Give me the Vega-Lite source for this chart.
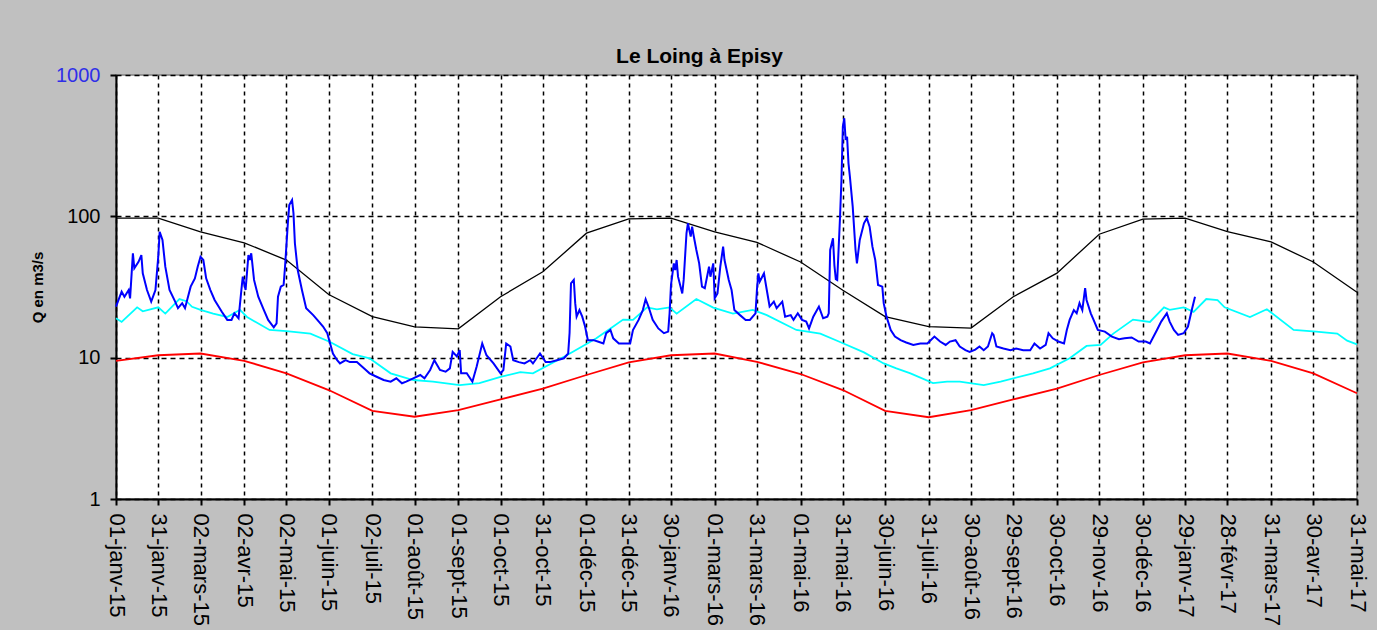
{
  "$schema": "https://vega.github.io/schema/vega-lite/v6.json",
  "width": 1241,
  "height": 424,
  "autosize": {"type": "none"},
  "padding": {"left": 116, "top": 75, "right": 20, "bottom": 131},
  "background": "#C0C0C0",
  "title": {"text": "Le Loing à Episy", "font": "Liberation Sans", "fontSize": 21, "fontWeight": "bold", "color": "#000000", "anchor": "middle", "offset": -2, "dx": -37},
  "config": {
    "view": {"fill": "white", "stroke": "#808080", "strokeWidth": 1.5},
    "axis": {"labelFont": "Liberation Sans", "titleFont": "Liberation Sans", "labelColor": "#000000", "titleColor": "#000000"}
  },
  "datasets": {
    "debit": [
      {"date":"2015-01-01","q":23},{"date":"2015-01-05","q":29.3},{"date":"2015-01-07","q":27},{"date":"2015-01-10","q":30.1},{"date":"2015-01-11","q":26.3},{"date":"2015-01-13","q":54.8},{"date":"2015-01-14","q":42.9},{"date":"2015-01-17","q":47.7},{"date":"2015-01-19","q":53.2},{"date":"2015-01-20","q":39.5},{"date":"2015-01-23","q":30.1},{"date":"2015-01-26","q":24.9},{"date":"2015-01-29","q":30.1},{"date":"2015-01-31","q":51.8},
      {"date":"2015-02-01","q":77.8},{"date":"2015-02-03","q":68},{"date":"2015-02-05","q":44},{"date":"2015-02-08","q":30.1},{"date":"2015-02-12","q":24.9},{"date":"2015-02-14","q":22.4},{"date":"2015-02-17","q":24.3},{"date":"2015-02-19","q":22.4},{"date":"2015-02-23","q":31.8},{"date":"2015-02-26","q":36.4},{"date":"2015-02-28","q":44},
      {"date":"2015-03-02","q":51.8},{"date":"2015-03-04","q":49.1},{"date":"2015-03-06","q":36.4},{"date":"2015-03-09","q":30.1},{"date":"2015-03-12","q":25.6},{"date":"2015-03-17","q":21.2},{"date":"2015-03-21","q":18.5},{"date":"2015-03-24","q":18.5},{"date":"2015-03-26","q":20.6},{"date":"2015-03-29","q":19},{"date":"2015-03-31","q":30.1},
      {"date":"2015-04-01","q":37.4},{"date":"2015-04-03","q":30.1},{"date":"2015-04-05","q":53.2},{"date":"2015-04-06","q":49.1},{"date":"2015-04-07","q":54.8},{"date":"2015-04-09","q":35.5},{"date":"2015-04-12","q":27},{"date":"2015-04-16","q":21.7},{"date":"2015-04-19","q":18.5},{"date":"2015-04-23","q":16.4},{"date":"2015-04-25","q":17.5},{"date":"2015-04-26","q":27},{"date":"2015-04-28","q":31.8},{"date":"2015-04-30","q":32.7},
      {"date":"2015-05-01","q":44},{"date":"2015-05-03","q":89.3},{"date":"2015-05-04","q":120},{"date":"2015-05-06","q":130.6},{"date":"2015-05-07","q":105},{"date":"2015-05-08","q":64.5},{"date":"2015-05-10","q":41.7},{"date":"2015-05-13","q":30.1},{"date":"2015-05-16","q":22.4},{"date":"2015-05-21","q":20},{"date":"2015-05-25","q":18},{"date":"2015-05-28","q":16.6},{"date":"2015-05-31","q":14.9},
      {"date":"2015-06-02","q":12.6},{"date":"2015-06-04","q":10.7},{"date":"2015-06-07","q":9.6},{"date":"2015-06-09","q":9.1},{"date":"2015-06-13","q":9.6},{"date":"2015-06-16","q":9.3},{"date":"2015-06-21","q":9.3},{"date":"2015-06-26","q":8.4},{"date":"2015-06-30","q":7.75},
      {"date":"2015-07-05","q":7.33},{"date":"2015-07-10","q":6.95},{"date":"2015-07-15","q":6.76},{"date":"2015-07-19","q":7.14},{"date":"2015-07-23","q":6.59},{"date":"2015-07-26","q":6.76},{"date":"2015-07-31","q":7.14},
      {"date":"2015-08-05","q":7.54},{"date":"2015-08-08","q":7.14},{"date":"2015-08-12","q":8.18},{"date":"2015-08-15","q":9.6},{"date":"2015-08-19","q":8.18},{"date":"2015-08-23","q":7.96},{"date":"2015-08-26","q":8.4},{"date":"2015-08-28","q":11},{"date":"2015-08-31","q":10.2},
      {"date":"2015-09-02","q":11.3},{"date":"2015-09-03","q":7.75},{"date":"2015-09-07","q":7.75},{"date":"2015-09-11","q":6.76},{"date":"2015-09-14","q":8.63},{"date":"2015-09-18","q":12.6},{"date":"2015-09-21","q":10.4},{"date":"2015-09-26","q":9.1},
      {"date":"2015-10-01","q":7.75},{"date":"2015-10-03","q":8.18},{"date":"2015-10-05","q":12.6},{"date":"2015-10-08","q":12},{"date":"2015-10-10","q":9.6},{"date":"2015-10-14","q":9.3},{"date":"2015-10-18","q":9.1},{"date":"2015-10-22","q":9.6},{"date":"2015-10-24","q":9.1},{"date":"2015-10-29","q":10.7},
      {"date":"2015-11-02","q":9.3},{"date":"2015-11-05","q":9.3},{"date":"2015-11-10","q":9.6},{"date":"2015-11-15","q":9.9},{"date":"2015-11-18","q":10.7},{"date":"2015-11-19","q":15},{"date":"2015-11-20","q":33.6},{"date":"2015-11-22","q":35.5},{"date":"2015-11-23","q":24.3},{"date":"2015-11-24","q":19.5},{"date":"2015-11-26","q":21.7},{"date":"2015-11-28","q":19.5},{"date":"2015-11-30","q":16.6},
      {"date":"2015-12-02","q":13.3},{"date":"2015-12-06","q":13.3},{"date":"2015-12-09","q":13},{"date":"2015-12-13","q":12.6},{"date":"2015-12-15","q":14.9},{"date":"2015-12-18","q":15.7},{"date":"2015-12-20","q":13.7},{"date":"2015-12-24","q":12.6},{"date":"2015-12-27","q":12.6},
      {"date":"2016-01-01","q":12.6},{"date":"2016-01-03","q":15.7},{"date":"2016-01-07","q":18.5},{"date":"2016-01-10","q":21.7},{"date":"2016-01-12","q":25.9},{"date":"2016-01-14","q":23},{"date":"2016-01-17","q":18.5},{"date":"2016-01-21","q":16.1},{"date":"2016-01-25","q":14.9},{"date":"2016-01-28","q":15.3},{"date":"2016-01-29","q":20.6},{"date":"2016-01-30","q":32.7},
      {"date":"2016-02-01","q":46.5},{"date":"2016-02-02","q":41.7},{"date":"2016-02-03","q":49.1},{"date":"2016-02-04","q":37.4},{"date":"2016-02-07","q":28.5},{"date":"2016-02-08","q":35.5},{"date":"2016-02-10","q":75.9},{"date":"2016-02-11","q":89.3},{"date":"2016-02-13","q":71.8},{"date":"2016-02-14","q":84.5},{"date":"2016-02-15","q":73.8},{"date":"2016-02-17","q":57.8},{"date":"2016-02-19","q":46.5},{"date":"2016-02-21","q":31.8},{"date":"2016-02-23","q":31},{"date":"2016-02-26","q":44},{"date":"2016-02-27","q":37.4},{"date":"2016-02-29","q":46.5},
      {"date":"2016-03-01","q":26.3},{"date":"2016-03-03","q":28.5},{"date":"2016-03-05","q":44},{"date":"2016-03-07","q":61},{"date":"2016-03-08","q":49.1},{"date":"2016-03-11","q":35.5},{"date":"2016-03-13","q":30.1},{"date":"2016-03-15","q":21.7},{"date":"2016-03-19","q":20},{"date":"2016-03-23","q":18.5},{"date":"2016-03-26","q":18.5},{"date":"2016-03-30","q":20.6},{"date":"2016-03-31","q":30.1},
      {"date":"2016-04-01","q":39.5},{"date":"2016-04-02","q":34.5},{"date":"2016-04-05","q":39.5},{"date":"2016-04-07","q":30.1},{"date":"2016-04-09","q":23},{"date":"2016-04-12","q":24.9},{"date":"2016-04-14","q":22.4},{"date":"2016-04-18","q":24.9},{"date":"2016-04-20","q":19.5},{"date":"2016-04-24","q":20},{"date":"2016-04-26","q":18.5},{"date":"2016-04-29","q":20.6},
      {"date":"2016-05-02","q":18.5},{"date":"2016-05-05","q":18},{"date":"2016-05-07","q":16.1},{"date":"2016-05-10","q":19.5},{"date":"2016-05-14","q":23},{"date":"2016-05-17","q":19},{"date":"2016-05-20","q":19.5},{"date":"2016-05-21","q":20.6},{"date":"2016-05-22","q":57.8},{"date":"2016-05-24","q":70},{"date":"2016-05-25","q":45},{"date":"2016-05-26","q":36},{"date":"2016-05-27","q":35.5},{"date":"2016-05-29","q":99},{"date":"2016-05-30","q":181},{"date":"2016-05-31","q":431},
      {"date":"2016-06-01","q":494},{"date":"2016-06-02","q":347},{"date":"2016-06-03","q":366},{"date":"2016-06-04","q":237},{"date":"2016-06-05","q":191},{"date":"2016-06-07","q":117},{"date":"2016-06-09","q":57.8},{"date":"2016-06-10","q":46.5},{"date":"2016-06-12","q":68},{"date":"2016-06-15","q":89.3},{"date":"2016-06-17","q":97},{"date":"2016-06-19","q":84.5},{"date":"2016-06-21","q":61},{"date":"2016-06-23","q":49.1},{"date":"2016-06-25","q":32.7},{"date":"2016-06-28","q":31.8},{"date":"2016-06-29","q":24.3},
      {"date":"2016-07-01","q":19.5},{"date":"2016-07-04","q":15.7},{"date":"2016-07-07","q":14.1},{"date":"2016-07-11","q":13.3},{"date":"2016-07-15","q":12.8},{"date":"2016-07-20","q":12.3},{"date":"2016-07-25","q":12.6},{"date":"2016-07-30","q":12.6},
      {"date":"2016-08-04","q":14.1},{"date":"2016-08-08","q":13},{"date":"2016-08-12","q":12.3},{"date":"2016-08-15","q":13},{"date":"2016-08-19","q":13.3},{"date":"2016-08-22","q":12},{"date":"2016-08-26","q":11.3},{"date":"2016-08-29","q":11},
      {"date":"2016-09-02","q":11.4},{"date":"2016-09-05","q":12},{"date":"2016-09-08","q":11.3},{"date":"2016-09-11","q":12},{"date":"2016-09-14","q":14.9},{"date":"2016-09-15","q":14.5},{"date":"2016-09-17","q":12},{"date":"2016-09-22","q":11.6},{"date":"2016-09-27","q":11.3},
      {"date":"2016-10-01","q":11.6},{"date":"2016-10-06","q":11.3},{"date":"2016-10-11","q":11.3},{"date":"2016-10-14","q":12.6},{"date":"2016-10-18","q":11.6},{"date":"2016-10-22","q":12.3},{"date":"2016-10-24","q":14.9},{"date":"2016-10-27","q":13.7},{"date":"2016-10-31","q":13},
      {"date":"2016-11-04","q":12.6},{"date":"2016-11-06","q":15.7},{"date":"2016-11-08","q":18.5},{"date":"2016-11-11","q":21.7},{"date":"2016-11-13","q":20.6},{"date":"2016-11-15","q":24.3},{"date":"2016-11-17","q":21.7},{"date":"2016-11-19","q":31},{"date":"2016-11-20","q":25.6},{"date":"2016-11-23","q":20.6},{"date":"2016-11-25","q":18.5},{"date":"2016-11-28","q":15.7},
      {"date":"2016-12-03","q":15.3},{"date":"2016-12-08","q":14.1},{"date":"2016-12-13","q":13.5},{"date":"2016-12-17","q":13.7},{"date":"2016-12-22","q":13.9},{"date":"2016-12-27","q":13},
      {"date":"2017-01-01","q":13},{"date":"2017-01-04","q":12.6},{"date":"2017-01-09","q":15.7},{"date":"2017-01-12","q":18},{"date":"2017-01-16","q":20.6},{"date":"2017-01-18","q":18},{"date":"2017-01-21","q":15.7},{"date":"2017-01-24","q":14.5},{"date":"2017-01-28","q":14.9},{"date":"2017-01-31","q":16.6},{"date":"2017-02-03","q":22.4},{"date":"2017-02-05","q":27}
    ],
    "median": [
      {"date":"2015-01-01","q":19},{"date":"2015-01-05","q":17.9},{"date":"2015-01-16","q":22.7},{"date":"2015-01-20","q":21.3},{"date":"2015-01-31","q":22.7},{"date":"2015-02-05","q":20.5},{"date":"2015-02-15","q":26},{"date":"2015-02-20","q":25.1},{"date":"2015-02-24","q":22.9},{"date":"2015-03-02","q":21.8},{"date":"2015-03-11","q":20.5},{"date":"2015-03-21","q":19.4},{"date":"2015-03-30","q":21.8},{"date":"2015-04-04","q":19.4},{"date":"2015-04-20","q":15.7},{"date":"2015-05-02","q":15.4},{"date":"2015-05-19","q":14.8},{"date":"2015-06-02","q":12.9},{"date":"2015-06-18","q":10.6},{"date":"2015-06-30","q":9.9},{"date":"2015-07-15","q":7.75},{"date":"2015-07-31","q":6.95},{"date":"2015-08-14","q":6.77},{"date":"2015-09-02","q":6.4},{"date":"2015-09-16","q":6.6},{"date":"2015-10-01","q":7.3},{"date":"2015-10-15","q":7.9},{"date":"2015-10-24","q":7.75},{"date":"2015-11-17","q":10.4},{"date":"2015-12-01","q":12.5},{"date":"2015-12-08","q":13.7},{"date":"2015-12-18","q":16.1},{"date":"2015-12-27","q":18.6},
      {"date":"2016-01-03","q":18.5},{"date":"2016-01-13","q":22.7},{"date":"2016-01-20","q":22},{"date":"2016-01-29","q":22.7},{"date":"2016-02-03","q":20.5},{"date":"2016-02-17","q":26},{"date":"2016-02-29","q":22.6},{"date":"2016-03-14","q":20.5},{"date":"2016-03-28","q":21.8},{"date":"2016-04-07","q":20},{"date":"2016-04-28","q":15.7},{"date":"2016-05-15","q":14.8},{"date":"2016-05-29","q":12.9},{"date":"2016-06-15","q":10.9},{"date":"2016-06-29","q":9.1},{"date":"2016-07-08","q":8.4},{"date":"2016-07-18","q":7.75},{"date":"2016-08-03","q":6.6},{"date":"2016-08-13","q":6.77},{"date":"2016-08-22","q":6.77},{"date":"2016-09-08","q":6.4},{"date":"2016-09-20","q":6.77},{"date":"2016-10-13","q":7.75},{"date":"2016-10-25","q":8.4},{"date":"2016-11-08","q":9.9},{"date":"2016-11-20","q":12.1},{"date":"2016-11-30","q":12.3},{"date":"2016-12-09","q":14.8},{"date":"2016-12-23","q":18.6},
      {"date":"2017-01-04","q":17.9},{"date":"2017-01-14","q":22.7},{"date":"2017-01-18","q":21.8},{"date":"2017-01-28","q":22.7},{"date":"2017-02-04","q":21.1},{"date":"2017-02-13","q":26},{"date":"2017-02-21","q":25.5},{"date":"2017-02-26","q":22.7},{"date":"2017-03-16","q":19.4},{"date":"2017-03-28","q":22},{"date":"2017-04-16","q":15.7},{"date":"2017-05-02","q":15.3},{"date":"2017-05-17","q":14.8},{"date":"2017-05-24","q":13.2},{"date":"2017-05-31","q":12.4}
    ],
    "haut": [
      {"date":"2015-01-01","q":97},{"date":"2015-01-31","q":97},{"date":"2015-03-02","q":77.5},{"date":"2015-04-02","q":65},{"date":"2015-05-02","q":49},{"date":"2015-06-01","q":28},{"date":"2015-07-02","q":19.5},{"date":"2015-08-01","q":16.5},{"date":"2015-09-01","q":16},{"date":"2015-10-01","q":27},{"date":"2015-10-31","q":40.5},{"date":"2015-12-01","q":76},{"date":"2015-12-31","q":96},
      {"date":"2016-01-30","q":97},{"date":"2016-03-01","q":77.5},{"date":"2016-03-31","q":65.5},{"date":"2016-05-01","q":47.5},{"date":"2016-05-31","q":30},{"date":"2016-06-30","q":19.5},{"date":"2016-07-31","q":16.6},{"date":"2016-08-30","q":16.2},{"date":"2016-09-29","q":27},{"date":"2016-10-30","q":39.6},{"date":"2016-11-29","q":74.7},{"date":"2016-12-30","q":95.5},
      {"date":"2017-01-29","q":97},{"date":"2017-02-28","q":78},{"date":"2017-03-31","q":66},{"date":"2017-04-30","q":47.5},{"date":"2017-05-31","q":29}
    ],
    "bas": [
      {"date":"2015-01-01","q":9.5},{"date":"2015-01-31","q":10.4},{"date":"2015-03-02","q":10.7},{"date":"2015-04-02","q":9.5},{"date":"2015-05-02","q":7.75},{"date":"2015-06-01","q":5.9},{"date":"2015-07-02","q":4.2},{"date":"2015-08-01","q":3.82},{"date":"2015-09-01","q":4.26},{"date":"2015-10-01","q":5.06},{"date":"2015-10-31","q":6.05},{"date":"2015-12-01","q":7.54},{"date":"2015-12-31","q":9.27},
      {"date":"2016-01-30","q":10.4},{"date":"2016-03-01","q":10.7},{"date":"2016-03-31","q":9.35},{"date":"2016-05-01","q":7.66},{"date":"2016-05-31","q":5.9},{"date":"2016-06-30","q":4.2},{"date":"2016-07-31","q":3.79},{"date":"2016-08-30","q":4.26},{"date":"2016-09-29","q":5.06},{"date":"2016-10-30","q":6.05},{"date":"2016-11-29","q":7.54},{"date":"2016-12-30","q":9.27},
      {"date":"2017-01-29","q":10.4},{"date":"2017-02-28","q":10.7},{"date":"2017-03-31","q":9.5},{"date":"2017-04-30","q":7.75},{"date":"2017-05-31","q":5.6}
    ]
  },
  "encoding": {
    "x": {
      "field": "date", "type": "temporal",
      "scale": {"type": "utc", "domain": [{"year": 2015, "month": 1, "date": 1, "utc": true}, {"year": 2017, "month": 5, "date": 31, "utc": true}], "nice": false},
      "axis": {
        "title": null,
        "values": [
          {"year":2015,"month":1,"date":1,"utc":true},{"year":2015,"month":1,"date":31,"utc":true},{"year":2015,"month":3,"date":2,"utc":true},{"year":2015,"month":4,"date":2,"utc":true},{"year":2015,"month":5,"date":2,"utc":true},{"year":2015,"month":6,"date":1,"utc":true},{"year":2015,"month":7,"date":2,"utc":true},{"year":2015,"month":8,"date":1,"utc":true},{"year":2015,"month":9,"date":1,"utc":true},{"year":2015,"month":10,"date":1,"utc":true},{"year":2015,"month":10,"date":31,"utc":true},{"year":2015,"month":12,"date":1,"utc":true},{"year":2015,"month":12,"date":31,"utc":true},
          {"year":2016,"month":1,"date":30,"utc":true},{"year":2016,"month":3,"date":1,"utc":true},{"year":2016,"month":3,"date":31,"utc":true},{"year":2016,"month":5,"date":1,"utc":true},{"year":2016,"month":5,"date":31,"utc":true},{"year":2016,"month":6,"date":30,"utc":true},{"year":2016,"month":7,"date":31,"utc":true},{"year":2016,"month":8,"date":30,"utc":true},{"year":2016,"month":9,"date":29,"utc":true},{"year":2016,"month":10,"date":30,"utc":true},{"year":2016,"month":11,"date":29,"utc":true},{"year":2016,"month":12,"date":30,"utc":true},
          {"year":2017,"month":1,"date":29,"utc":true},{"year":2017,"month":2,"date":28,"utc":true},{"year":2017,"month":3,"date":31,"utc":true},{"year":2017,"month":4,"date":30,"utc":true},{"year":2017,"month":5,"date":31,"utc":true}
        ],
        "labelExpr": "utcFormat(datum.value, '%d') + '-' + ['janv','févr','mars','avr','mai','juin','juil','août','sept','oct','nov','déc'][utcmonth(datum.value)] + '-' + utcFormat(datum.value, '%y')",
        "labelAngle": 90,
        "labelFontSize": 22,
        "labelPadding": 8,
        "labelOverlap": false,
        "labelFlush": false,
        "tickSize": 6,
        "tickWidth": 2,
        "tickColor": "#000000",
        "domainColor": "#000000",
        "domainWidth": 2,
        "grid": true,
        "gridColor": "#000000",
        "gridDash": [4, 4],
        "gridWidth": 1.5
      }
    },
    "y": {
      "field": "q", "type": "quantitative",
      "scale": {"type": "log", "domain": [1, 1000], "nice": false},
      "axis": {
        "title": "Q en m3/s",
        "titleFontSize": 15,
        "titleFontWeight": "bold",
        "titlePadding": 10,
        "values": [1, 10, 100, 1000],
        "format": "d",
        "labelFontSize": 20,
        "labelPadding": 10,
        "labelColor": {"expr": "datum.value == 1000 ? '#2F2FE8' : '#000000'"},
        "tickSize": 6,
        "tickWidth": 2,
        "tickColor": "#000000",
        "domainColor": "#000000",
        "domainWidth": 2,
        "grid": true,
        "gridColor": "#000000",
        "gridDash": [5, 4],
        "gridWidth": 1.5
      }
    }
  },
  "layer": [
    {"data": {"name": "haut"}, "mark": {"type": "line", "color": "#000000", "strokeWidth": 1.3}},
    {"data": {"name": "bas"}, "mark": {"type": "line", "color": "#FF0000", "strokeWidth": 1.8}},
    {"data": {"name": "median"}, "mark": {"type": "line", "color": "#00FFFF", "strokeWidth": 1.8}},
    {"data": {"name": "debit"}, "mark": {"type": "line", "color": "#0000FF", "strokeWidth": 2}}
  ]
}
